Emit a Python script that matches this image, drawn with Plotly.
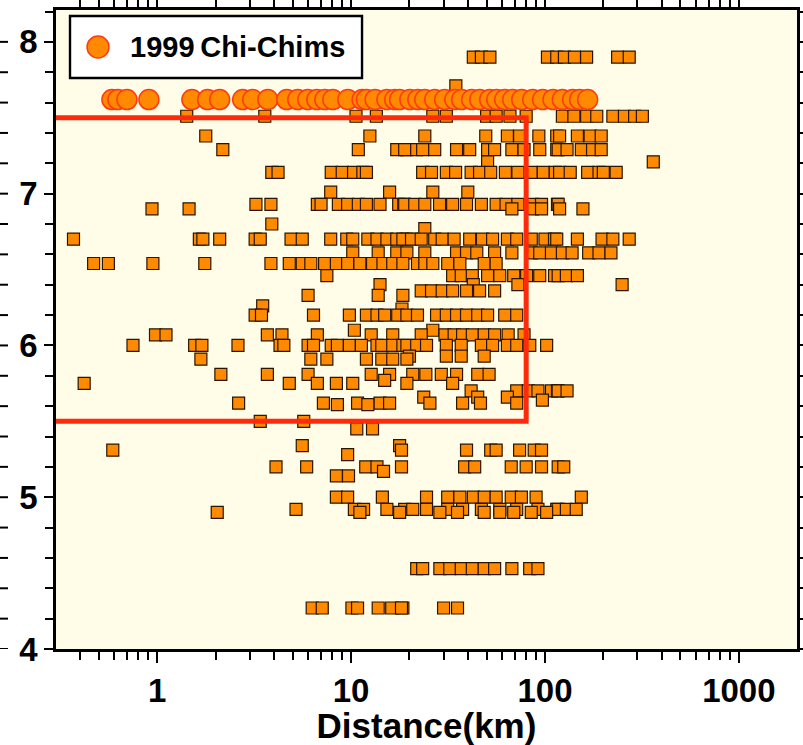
import plotly.graph_objects as go

# ---- 1999 Chi-Chi events (circles) ----
chichi_dist = [0.584, 0.627, 0.698, 0.906, 1.51, 1.82, 2.10, 2.76, 3.11, 3.72, 4.66, 5.31,
               5.98, 6.66, 7.32, 8.05, 9.62, 11.4, 12.0, 13.3, 15.3, 16.8, 17.8, 20.1, 22.1,
               24.0, 27.0, 30.4, 34.3, 37.2, 41.9, 46.1, 51.9, 56.4, 62.0, 68.2, 75.9, 86.5,
               97.3, 110, 123, 139, 151, 166]
chichi_mag = 7.62
legend_label = "1999\u2009Chi-Chims"

# ---- other records (squares): distance lists per magnitude ----
d_790 = [42.7, 47, 52, 103, 115, 126, 142, 164, 237, 272]
d_771 = [34.7]
d_751 = [1.42, 3.59, 10.6, 13.5, 26.4, 31, 50, 56, 66, 80, 123, 141, 164, 185, 224, 257, 290, 318]
d_738 = [1.78, 12.5, 24, 49.5, 64, 74, 93, 115, 119, 147, 171, 195]
d_729 = [2.18, 10.9, 17.2, 19.4, 18.9, 21.8, 23.4, 27, 35, 40.9, 50.6, 55, 67.5, 78, 94, 115,
         117, 130, 154, 176, 195]
d_721 = [50.6, 362]
d_714 = [3.9, 4.2, 7.9, 9.0, 10.3, 11.5, 12.0, 23.4, 26, 31, 34.6, 41.6, 46, 52.5, 62.5, 72.5,
         85, 98, 113, 119, 135, 166, 190, 200, 233]
d_701 = [7.85, 15.8, 26.4, 40]
d_693 = [3.23, 3.86, 6.7, 7.0, 8.6, 9.6, 10.9, 12.0, 14.1, 17.6, 18.7, 18.9, 21.3, 24, 28.6,
         33.4, 39.4, 47, 56, 63, 72.5, 86, 96, 116, 117]
d_690 = [0.94, 1.46, 67.5, 86, 96, 119, 157]
d_680 = [3.9]
d_677 = [24]
d_670 = [0.37, 1.65, 1.72, 2.10, 3.2, 3.4, 4.9, 5.6, 7.85, 9.5, 10.2, 12.2, 13.6, 15.3, 17.2,
         19.4, 18.5, 20.5, 23, 27, 29.5, 34, 40.9, 47.6, 53.7, 64, 71.5, 85, 100, 112, 115,
         147, 197, 224, 272]
d_661 = [10.2, 13.8, 17.2, 19.4, 24, 35, 39.4, 44.5, 55, 67.5, 85, 94, 108, 123, 138, 168, 190, 219]
d_654 = [0.47, 0.56, 0.95, 1.76, 3.86, 4.8, 5.6, 6.2, 7.3, 8.4, 9.6, 11.1, 12.9, 14.6, 16.4,
         18.5, 22, 24, 26.4, 31.5, 36.4, 48.6, 56]
d_646 = [7.5, 33.4, 37, 42.2, 50.6, 58.5, 69, 80.4, 94, 112, 117, 129, 147]
d_640 = [14.1, 42.7, 72.5, 250]
d_636 = [23, 26, 29.5, 33.4, 39.4, 46, 55]
d_633 = [6.0, 13.8, 18.5]
d_626 = [3.5]
d_624 = [18.3]
d_620 = [3.2, 3.45, 6.4, 9.8, 12.0, 13.6, 14.9, 17.4, 19.4, 22, 27.6, 31, 35, 39.4, 45, 50.6, 62, 71.5]
d_610 = [10.4, 26.4]
d_607 = [0.98, 1.11, 3.7, 4.4, 6.7, 12.7, 16.4, 23, 30.5, 34, 37.6, 42.2, 48.6, 55, 64.6, 78]
d_600 = [0.75, 1.56, 1.70, 2.61, 4.3, 4.5, 6.0, 6.4, 7.9, 8.5, 9.8, 11.3, 13.6, 14.4, 16.4,
         18.5, 19.4, 21.8, 24.5, 31, 37, 47, 53.7, 64, 71.5, 83.5, 102]
d_593 = [20, 31, 37, 48.6]
d_591 = [1.68, 6.2, 7.5, 12.0, 14.4, 16.4, 19.4]
d_581 = [2.13, 3.7, 6.0, 12.7, 15.8, 20.8, 24.3, 29.2, 35, 45, 51.5]
d_577 = [14.9]
d_575 = [0.42, 4.8, 6.7, 8.4, 10.2, 19.4, 33.4]
d_570 = [41.6, 71.5, 82, 92, 108, 116, 117, 130]
d_566 = [23.7, 45, 64]
d_564 = [97]
d_562 = [2.63, 7.2, 10.8, 14.1, 15.8, 25.5, 37.6, 46.5, 71.5]
d_561 = [8.5, 12.2]
d_550 = [3.4, 5.7]
d_545 = [10.7, 12.9]
d_534 = [5.6, 17.8]
d_531 = [0.59, 18.2, 39.4, 52.5, 56, 74, 88, 96]
d_528 = [9.6]
d_520 = [4.1, 5.9, 11.9, 13.6, 18.2, 38.5, 43.4, 67, 80, 96, 117, 125]
d_517 = [14.7]
d_514 = [8.4, 9.7]
d_500 = [8.4, 9.6, 14.5, 24.5, 31.5, 36.4, 42.7, 48.6, 56, 67, 75.6, 90, 154]
d_492 = [5.2, 10.4, 11.6, 15.3, 18.9, 20.8, 24.5, 31.5, 37.6, 47, 58.5, 71.5, 92, 115, 117, 129, 145]
d_490 = [2.04, 11.1, 17.8, 28.7, 35.4, 48.6, 58.5, 69, 85, 102]
d_453 = [21.8, 23.4, 28.7, 32.3, 37, 42.2, 48.6, 55, 67.5, 83.4, 92]
d_427 = [6.3, 7.1, 10.1, 10.8, 13.8, 16.2, 18.5, 18.2, 30, 35.4]

square_rows = [
    (7.90, d_790), (7.71, d_771), (7.51, d_751), (7.38, d_738), (7.29, d_729), (7.21, d_721),
    (7.14, d_714), (7.01, d_701), (6.93, d_693), (6.90, d_690), (6.80, d_680), (6.77, d_677),
    (6.70, d_670), (6.61, d_661), (6.54, d_654), (6.46, d_646), (6.40, d_640), (6.36, d_636),
    (6.33, d_633), (6.26, d_626), (6.24, d_624), (6.20, d_620), (6.10, d_610), (6.07, d_607),
    (6.00, d_600), (5.93, d_593), (5.91, d_591), (5.81, d_581), (5.77, d_577), (5.75, d_575),
    (5.70, d_570), (5.66, d_566), (5.64, d_564), (5.62, d_562), (5.61, d_561), (5.50, d_550),
    (5.45, d_545), (5.34, d_534), (5.31, d_531), (5.28, d_528), (5.20, d_520), (5.17, d_517),
    (5.14, d_514), (5.00, d_500), (4.92, d_492), (4.90, d_490), (4.53, d_453), (4.27, d_427),
]

# ---- selection box ----
box_dist = [0.01, 80, 80, 0.01]
box_mag = [7.5, 7.5, 5.5, 5.5]

x_tickvals = [1, 10, 100, 1000]
x_ticktext = ["1", "10", "100", "1000"]
y_tickvals = [4, 5, 6, 7, 8]
y_minor_step = 0.2

sq_x, sq_y = [], []
for m, ds in square_rows:
    sq_x.extend(ds)
    sq_y.extend([m] * len(ds))

FONT = "Liberation Sans, Arial, sans-serif"
ORANGE = "#FF8A00"
CIRCLE_EDGE = "#FF3A10"

fig = go.Figure()
fig.add_trace(go.Scatter(
    x=sq_x, y=sq_y, mode="markers", showlegend=False,
    marker=dict(symbol="square", size=12, color=ORANGE,
                line=dict(color="#2A1500", width=1.2)),
))
fig.add_trace(go.Scatter(
    x=box_dist, y=box_mag, mode="lines", showlegend=False,
    line=dict(color="#FF2A0A", width=5),
))
fig.add_trace(go.Scatter(
    x=chichi_dist, y=[chichi_mag] * len(chichi_dist), mode="markers",
    name=legend_label, showlegend=False,
    marker=dict(symbol="circle", size=20, color=ORANGE,
                line=dict(color=CIRCLE_EDGE, width=1.5)),
))

axis_common = dict(
    showline=True, linecolor="black", linewidth=2.5, mirror="allticks",
    ticks="outside", tickcolor="black", tickwidth=2, showgrid=False, zeroline=False,
    automargin=False,
    tickfont=dict(family=FONT, size=33, color="black", weight="bold"),
)

fig.update_xaxes(
    type="log", range=[-0.522, 3.30],
    tickvals=x_tickvals, ticktext=x_ticktext, ticklen=11,
    minor=dict(ticks="outside", ticklen=8, tickwidth=2, tickcolor="black", dtick="D1"),
    title=dict(text="Distance(km)", font=dict(family=FONT, size=35, color="black", weight="bold"),
               standoff=4),
    **axis_common,
)
fig.update_yaxes(
    range=[4, 8.21], tickvals=y_tickvals, ticklen=9,
    minor=dict(ticks="outside", ticklen=8, tickwidth=2, tickcolor="black", dtick=y_minor_step),
    **axis_common,
)

# ---- small tick stubs at the far left edge (clipped neighbouring frame) ----
n_steps = int(round((y_tickvals[-1] - y_tickvals[0]) / y_minor_step))
for i in range(n_steps + 1):
    yv = y_tickvals[0] + i * y_minor_step
    fig.add_shape(type="line", xref="paper", yref="y",
                  x0=-0.0756, x1=-0.0648, y0=yv, y1=yv,
                  line=dict(color="black", width=2))

# ---- legend box (drawn in plot-domain paper coordinates) ----
fig.add_shape(type="rect", xref="paper", yref="paper",
              x0=0.0189, x1=0.413, y0=0.8936, y1=0.9906,
              fillcolor="white", line=dict(color="black", width=2.4), layer="above")
fig.add_shape(type="circle", xref="paper", yref="paper",
              x0=0.0567 - 0.0148, x1=0.0567 + 0.0148, y0=0.9421 - 0.0172, y1=0.9421 + 0.0172,
              fillcolor=ORANGE, line=dict(color=CIRCLE_EDGE, width=1.5), layer="above")
fig.add_annotation(xref="paper", yref="paper", x=0.0972, y=0.9421,
                   xanchor="left", yanchor="middle", showarrow=False,
                   text=legend_label,
                   font=dict(family=FONT, size=29, color="black", weight="bold"))

fig.update_layout(
    width=803, height=745,
    margin=dict(l=56, r=6, t=10, b=96),
    paper_bgcolor="white", plot_bgcolor="#FFFDE7",
    showlegend=False,
)

fig.write_html("out.html")
